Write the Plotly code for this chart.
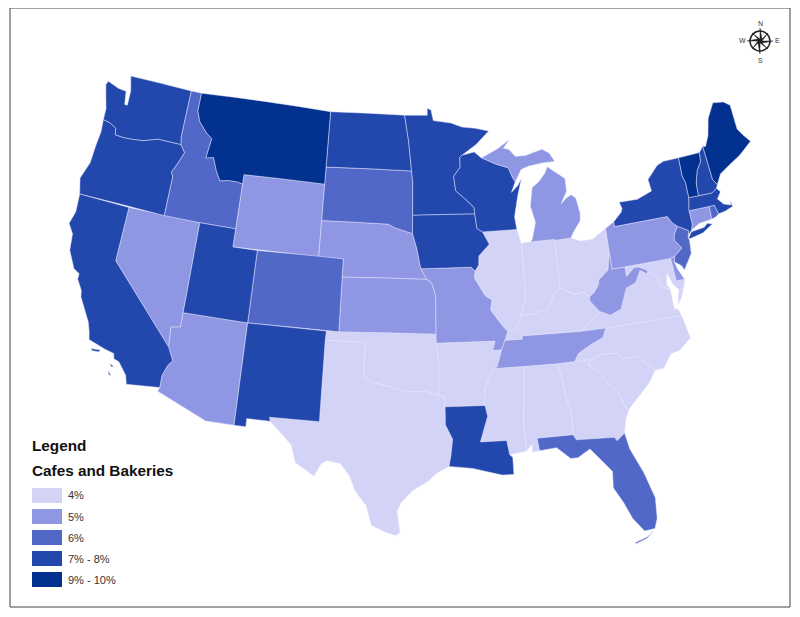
import plotly.graph_objects as go

# state outlines: (lon, lat) read by eye
WA = [(-122.75,49.0),(-117.03,49.0),(-117.04,46.42),(-116.92,45.99),(-118.98,46.0),(-119.3,45.93),(-120.2,45.73),(-121.2,45.65),(-122.0,45.62),(-122.7,45.65),(-122.8,46.0),(-123.4,46.2),(-124.05,46.27),(-124.1,46.9),(-124.4,47.5),(-124.73,48.17),(-124.6,48.38),(-123.5,48.15),(-122.8,48.12),(-122.6,47.4),(-122.35,47.4),(-122.4,48.2)]
OR = [(-124.05,46.27),(-123.4,46.2),(-122.8,46.0),(-122.7,45.65),(-122.0,45.62),(-121.2,45.65),(-120.2,45.73),(-119.3,45.93),(-118.98,46.0),(-116.92,45.99),(-116.46,45.6),(-116.85,44.95),(-117.22,44.4),(-117.03,44.2),(-117.03,42.0),(-124.2,42.0),(-124.55,42.85),(-124.1,43.8),(-124.05,44.8),(-123.95,45.6)]
CA = [(-124.2,42.0),(-120.0,42.0),(-120.0,39.0),(-114.63,35.0),(-114.15,34.3),(-114.45,34.0),(-114.72,33.4),(-114.72,32.72),(-117.12,32.53),(-117.3,33.0),(-118.0,33.65),(-118.4,33.75),(-118.5,34.03),(-119.2,34.15),(-120.5,34.45),(-120.65,34.9),(-120.9,35.4),(-121.9,36.6),(-122.0,36.95),(-122.5,37.5),(-122.5,37.8),(-123.0,38.0),(-123.7,38.9),(-123.85,39.8),(-124.35,40.3),(-124.1,41.0)]
CA_ISLE1 = [(-120.2,34.0),(-119.5,34.05),(-119.6,33.93),(-120.1,33.9)]
CA_ISLE2 = [(-118.6,33.45),(-118.3,33.35),(-118.45,33.28)]
CA_ISLE3 = [(-118.6,33.05),(-118.35,32.82),(-118.5,32.82)]
NV = [(-120.0,42.0),(-114.04,42.0),(-114.04,36.2),(-114.75,36.1),(-114.63,35.0),(-120.0,39.0)]
ID = [(-117.03,49.0),(-116.05,49.0),(-116.05,48.0),(-115.7,47.45),(-114.9,46.9),(-114.35,46.65),(-114.55,45.55),(-113.9,45.65),(-113.45,44.95),(-113.0,44.45),(-112.3,44.55),(-111.5,44.55),(-111.05,44.48),(-111.05,42.0),(-114.04,42.0),(-117.03,42.0),(-117.03,44.2),(-117.22,44.4),(-116.85,44.95),(-116.46,45.6),(-116.92,45.99),(-117.04,46.42)]
MT = [(-116.05,49.0),(-104.05,49.0),(-104.05,45.0),(-111.05,45.0),(-111.05,44.48),(-111.5,44.55),(-112.3,44.55),(-113.0,44.45),(-113.45,44.95),(-113.9,45.65),(-114.55,45.55),(-114.35,46.65),(-114.9,46.9),(-115.7,47.45),(-116.05,48.0)]
WY = [(-111.05,45.0),(-104.05,45.0),(-104.05,41.0),(-111.05,41.0)]
UT = [(-114.04,42.0),(-111.05,42.0),(-111.05,41.0),(-109.05,41.0),(-109.05,37.0),(-114.04,37.0)]
CO = [(-109.05,41.0),(-102.05,41.0),(-102.05,37.0),(-109.05,37.0)]
AZ = [(-114.04,37.0),(-109.05,37.0),(-109.05,31.33),(-111.07,31.33),(-114.81,32.5),(-114.72,32.72),(-114.72,33.4),(-114.45,34.0),(-114.15,34.3),(-114.63,35.0),(-114.75,36.1),(-114.04,36.2)]
NM = [(-109.05,37.0),(-103.0,37.0),(-103.04,36.5),(-103.04,32.0),(-106.62,32.0),(-106.53,31.78),(-108.21,31.78),(-108.21,31.33),(-109.05,31.33)]
ND = [(-104.05,49.0),(-97.23,49.0),(-96.85,47.6),(-96.56,45.93),(-104.05,45.94)]
SD = [(-104.05,45.94),(-96.56,45.93),(-96.45,45.3),(-96.45,43.5),(-96.45,42.5),(-97.9,42.8),(-98.5,43.0),(-104.05,43.0)]
NE = [(-104.05,43.0),(-98.5,43.0),(-97.9,42.8),(-96.45,42.5),(-96.1,41.7),(-95.9,41.0),(-95.77,40.58),(-95.3,40.0),(-102.05,40.0),(-102.05,41.0),(-104.05,41.0)]
KS = [(-102.05,40.0),(-95.3,40.0),(-94.9,39.8),(-94.6,39.1),(-94.62,37.0),(-102.05,37.0)]
OK = [(-103.0,37.0),(-94.62,37.0),(-94.62,36.5),(-94.43,35.4),(-94.48,33.64),(-95.5,33.88),(-96.6,33.85),(-97.2,33.9),(-98.1,34.13),(-99.2,34.3),(-100.0,34.56),(-100.0,36.5),(-103.04,36.5)]
TX = [(-103.04,36.5),(-100.0,36.5),(-100.0,34.56),(-99.2,34.3),(-98.1,34.13),(-97.2,33.9),(-96.6,33.85),(-95.5,33.88),(-94.48,33.64),(-94.04,33.55),(-94.04,33.0),(-94.04,32.0),(-93.55,31.2),(-93.7,30.3),(-93.85,29.7),(-94.7,29.35),(-95.3,28.9),(-96.4,28.35),(-97.15,27.7),(-97.4,27.2),(-97.2,26.0),(-97.5,25.85),(-98.2,26.05),(-99.1,26.4),(-99.5,27.5),(-100.3,28.3),(-100.7,29.1),(-101.4,29.77),(-102.3,29.88),(-102.7,29.7),(-103.15,28.98),(-104.5,29.65),(-104.9,30.6),(-106.53,31.78),(-106.62,32.0),(-103.04,32.0)]
MN = [(-97.23,49.0),(-95.15,49.0),(-95.15,49.38),(-94.8,49.3),(-94.6,48.7),(-93.0,48.55),(-92.0,48.3),(-90.8,48.2),(-89.6,48.0),(-90.8,47.3),(-92.1,46.75),(-92.3,46.65),(-92.3,46.1),(-92.9,45.6),(-92.75,44.8),(-91.9,44.3),(-91.25,43.85),(-91.22,43.5),(-96.45,43.5),(-96.45,45.3),(-96.56,45.93),(-96.85,47.6)]
IA = [(-96.45,43.5),(-91.22,43.5),(-91.1,42.7),(-90.65,42.5),(-90.15,41.8),(-91.05,41.2),(-91.1,40.7),(-91.42,40.38),(-91.7,40.6),(-95.77,40.58),(-95.9,41.0),(-96.1,41.7),(-96.45,42.5)]
MO = [(-95.77,40.58),(-91.7,40.6),(-91.42,40.38),(-91.5,40.0),(-90.7,39.0),(-90.2,38.75),(-90.35,38.2),(-89.5,37.3),(-89.13,36.98),(-89.4,36.5),(-89.7,36.0),(-90.37,36.0),(-90.15,36.5),(-94.62,36.5),(-94.62,37.0),(-94.6,39.1),(-94.9,39.8),(-95.3,40.0)]
AR = [(-94.62,36.5),(-90.15,36.5),(-90.37,36.0),(-89.7,36.0),(-90.1,35.1),(-90.6,34.7),(-91.1,33.9),(-91.15,33.0),(-94.04,33.0),(-94.04,33.55),(-94.48,33.64),(-94.43,35.4)]
LA = [(-94.04,33.0),(-91.15,33.0),(-91.0,32.4),(-91.6,31.0),(-89.75,31.0),(-89.6,30.2),(-89.4,30.05),(-89.4,29.8),(-89.4,29.1),(-90.2,29.1),(-91.3,29.35),(-92.2,29.55),(-93.85,29.7),(-93.7,30.3),(-93.55,31.2),(-94.04,32.0)]
MS = [(-91.15,33.0),(-91.1,33.9),(-90.6,34.7),(-90.3,35.0),(-88.2,35.0),(-88.1,34.9),(-88.47,31.9),(-88.4,30.35),(-89.6,30.2),(-89.75,31.0),(-91.6,31.0),(-91.0,32.4)]
AL = [(-88.2,35.0),(-85.6,34.98),(-85.18,32.85),(-85.0,32.3),(-85.05,31.0),(-87.6,31.0),(-87.5,30.3),(-88.0,30.25),(-88.0,30.7),(-88.4,30.35),(-88.47,31.9),(-88.1,34.9)]
GA = [(-85.6,34.98),(-83.1,35.0),(-83.35,34.7),(-82.9,34.45),(-82.0,33.5),(-81.45,33.0),(-81.1,32.1),(-80.85,32.03),(-81.2,31.5),(-81.45,30.72),(-82.05,30.36),(-82.2,30.57),(-84.87,30.7),(-85.05,31.0),(-85.0,32.3),(-85.18,32.85)]
FL = [(-87.6,31.0),(-85.05,31.0),(-84.87,30.7),(-82.2,30.57),(-82.05,30.36),(-81.45,30.72),(-81.25,29.8),(-80.55,28.4),(-80.05,26.9),(-80.15,25.75),(-80.4,25.2),(-81.1,25.15),(-81.75,25.95),(-82.2,26.9),(-82.75,27.8),(-82.65,28.7),(-83.4,29.5),(-84.0,30.1),(-84.9,29.7),(-85.4,29.7),(-86.3,30.38),(-87.5,30.3)]
FL_KEYS = [(-80.5,25.1),(-81.0,24.72),(-81.8,24.5),(-81.8,24.58),(-81.0,24.8)]
SC = [(-83.35,34.7),(-83.1,35.0),(-82.3,35.2),(-81.05,35.15),(-80.8,34.82),(-79.67,34.8),(-78.55,33.87),(-79.2,33.2),(-79.9,32.7),(-80.85,32.03),(-81.1,32.1),(-81.45,33.0),(-82.0,33.5),(-82.9,34.45)]
NC = [(-84.32,34.99),(-83.1,35.0),(-82.3,35.2),(-81.05,35.15),(-80.8,34.82),(-79.67,34.8),(-78.55,33.87),(-77.9,33.9),(-77.2,34.6),(-76.5,34.7),(-75.55,35.25),(-75.85,36.55),(-81.68,36.59),(-82.0,36.1),(-83.0,35.8),(-84.0,35.4)]
TN = [(-90.3,35.0),(-88.2,35.0),(-85.6,34.98),(-84.32,34.99),(-84.0,35.4),(-83.0,35.8),(-82.0,36.1),(-81.68,36.59),(-83.68,36.6),(-88.07,36.68),(-88.07,36.5),(-89.4,36.5),(-89.7,36.0),(-90.1,35.1)]
KY = [(-89.4,36.5),(-88.07,36.5),(-88.07,36.68),(-83.68,36.6),(-83.1,36.85),(-81.97,37.54),(-82.6,38.17),(-82.6,38.4),(-83.0,38.7),(-83.7,38.65),(-84.8,39.1),(-85.4,38.7),(-85.9,38.0),(-86.5,37.95),(-87.1,37.8),(-88.05,37.8),(-88.45,37.1),(-89.13,36.98)]
IL = [(-91.42,40.38),(-91.1,40.7),(-91.05,41.2),(-90.15,41.8),(-90.65,42.5),(-87.8,42.5),(-87.53,41.7),(-87.53,39.35),(-87.6,38.7),(-88.05,37.8),(-88.45,37.1),(-89.13,36.98),(-89.5,37.3),(-90.35,38.2),(-90.2,38.75),(-90.7,39.0),(-91.5,40.0)]
IN = [(-87.53,41.7),(-87.2,41.76),(-86.8,41.76),(-84.8,41.76),(-84.8,39.1),(-85.4,38.7),(-85.9,38.0),(-86.5,37.95),(-87.1,37.8),(-88.05,37.8),(-87.6,38.7),(-87.53,39.35)]
OH = [(-84.8,41.7),(-83.45,41.73),(-82.7,41.5),(-81.7,41.5),(-80.52,41.98),(-80.52,40.64),(-80.85,39.7),(-81.7,39.25),(-81.75,39.0),(-82.2,38.6),(-82.6,38.4),(-83.0,38.7),(-83.7,38.65),(-84.8,39.1)]
WI = [(-90.4,46.55),(-89.1,46.14),(-88.1,45.9),(-87.8,45.35),(-87.6,45.1),(-88.0,44.55),(-87.4,44.9),(-87.05,45.25),(-87.5,44.3),(-87.9,43.2),(-87.8,42.5),(-90.65,42.5),(-91.1,42.7),(-91.22,43.5),(-91.25,43.85),(-91.9,44.3),(-92.75,44.8),(-92.9,45.6),(-92.3,46.1),(-92.3,46.65),(-92.1,46.75),(-91.0,46.9)]
MI_LOWER = [(-86.8,41.76),(-84.8,41.76),(-84.8,41.7),(-83.45,41.73),(-83.15,42.05),(-82.5,42.6),(-82.42,43.0),(-82.6,43.85),(-82.95,44.07),(-83.35,43.95),(-83.9,43.65),(-83.3,44.3),(-83.3,45.0),(-84.7,45.75),(-85.0,45.4),(-85.55,45.0),(-86.2,44.7),(-86.5,43.7),(-86.2,42.8),(-86.6,41.9)]
MI_UPPER = [(-90.4,46.55),(-89.1,46.14),(-88.1,45.9),(-87.8,45.35),(-87.6,45.1),(-87.0,45.75),(-86.3,45.9),(-85.0,46.0),(-84.0,46.0),(-84.4,46.5),(-85.0,46.75),(-86.5,46.5),(-87.4,46.5),(-87.9,46.9),(-88.4,47.0),(-87.8,47.45),(-88.9,47.0)]
PA = [(-80.52,41.98),(-79.76,42.27),(-79.76,42.0),(-75.35,42.0),(-75.05,41.6),(-74.7,41.36),(-75.1,40.95),(-75.2,40.65),(-74.72,40.15),(-75.42,39.8),(-75.79,39.72),(-80.52,39.72),(-80.52,40.64)]
NY = [(-79.76,42.27),(-79.05,42.7),(-78.9,42.9),(-79.05,43.27),(-77.5,43.25),(-76.2,43.55),(-76.3,44.2),(-75.3,44.85),(-74.7,45.0),(-73.35,45.0),(-73.4,44.0),(-73.25,43.6),(-73.27,42.75),(-73.5,42.05),(-73.5,41.3),(-73.65,41.0),(-74.0,40.75),(-73.9,41.0),(-74.7,41.36),(-75.05,41.6),(-75.35,42.0),(-79.76,42.0)]
NY_LONG_ISLAND = [(-74.03,40.6),(-73.7,40.9),(-72.6,40.98),(-72.3,41.15),(-71.9,41.05),(-72.8,40.7),(-73.9,40.55)]
NJ = [(-74.7,41.36),(-73.9,41.0),(-74.05,40.65),(-74.0,40.45),(-74.1,39.75),(-74.9,38.95),(-75.05,39.2),(-75.55,39.5),(-75.42,39.8),(-74.72,40.15),(-75.2,40.65),(-75.1,40.95)]
DE = [(-75.79,39.72),(-75.42,39.8),(-75.55,39.5),(-75.4,39.05),(-75.05,38.45),(-75.7,38.46)]
MD = [(-79.48,39.72),(-75.79,39.72),(-75.7,38.46),(-75.05,38.45),(-75.25,38.03),(-75.65,37.95),(-76.0,38.3),(-76.3,39.0),(-76.5,38.4),(-76.3,38.05),(-77.05,38.4),(-77.05,38.85),(-77.5,39.15),(-77.75,39.32),(-78.4,39.6),(-78.8,39.6),(-79.48,39.2)]
VA = [(-83.68,36.6),(-81.68,36.59),(-75.85,36.55),(-76.0,36.9),(-76.3,37.0),(-76.3,38.05),(-77.05,38.4),(-77.05,38.85),(-77.5,39.15),(-77.75,39.32),(-77.83,39.13),(-78.35,39.4),(-78.87,38.77),(-79.65,38.58),(-80.3,37.5),(-81.2,37.25),(-81.97,37.54),(-83.1,36.85)]
VA_SHORE = [(-75.95,37.15),(-75.65,37.95),(-75.25,38.03),(-75.6,37.5)]
WV = [(-80.52,40.64),(-80.52,39.72),(-79.48,39.72),(-79.48,39.2),(-78.8,39.6),(-78.4,39.6),(-77.75,39.32),(-77.83,39.13),(-78.35,39.4),(-78.87,38.77),(-79.65,38.58),(-80.3,37.5),(-81.2,37.25),(-81.97,37.54),(-82.6,38.17),(-82.6,38.4),(-82.2,38.6),(-81.75,39.0),(-81.7,39.25),(-80.85,39.7)]
CT = [(-73.5,42.05),(-71.8,42.02),(-71.85,41.32),(-72.9,41.25),(-73.65,41.0),(-73.5,41.3)]
RI = [(-71.8,42.02),(-71.38,42.02),(-71.2,41.5),(-71.5,41.37),(-71.85,41.32)]
MA = [(-73.5,42.05),(-73.27,42.75),(-71.3,42.7),(-70.85,42.88),(-70.6,42.65),(-71.0,42.3),(-70.6,41.95),(-70.05,41.8),(-70.0,42.05),(-69.95,41.7),(-70.65,41.55),(-71.2,41.5),(-71.38,42.02),(-71.8,42.02)]
VT = [(-73.35,45.0),(-71.5,45.01),(-71.6,44.5),(-72.05,44.1),(-72.4,43.4),(-72.46,42.73),(-73.27,42.75),(-73.25,43.6),(-73.4,44.0)]
NH = [(-71.5,45.01),(-71.08,45.3),(-70.98,43.4),(-70.7,43.07),(-70.85,42.88),(-71.3,42.7),(-72.46,42.73),(-72.4,43.4),(-72.05,44.1),(-71.6,44.5)]
ME = [(-71.08,45.3),(-70.85,45.25),(-70.4,45.8),(-70.0,46.7),(-69.23,47.46),(-68.3,47.35),(-67.8,47.07),(-67.8,45.7),(-67.45,45.3),(-67.0,44.85),(-68.2,44.3),(-69.1,44.0),(-70.2,43.6),(-70.7,43.07),(-70.98,43.4)]

group_4 = [TX,OK,AR,MS,AL,GA,SC,NC,VA,VA_SHORE,KY,OH,IN,IL,MD]
group_5 = [NV,AZ,WY,NE,KS,MO,MI_LOWER,MI_UPPER,TN,PA,CT,WV,DE]
group_6 = [ID,CO,SD,FL,FL_KEYS,NJ,RI]
group_7 = [WA,OR,CA,CA_ISLE1,CA_ISLE2,CA_ISLE3,UT,NM,ND,MN,IA,WI,NY,NY_LONG_ISLAND,MA,NH,LA]
group_9 = [MT,ME,VT]
groups = [group_4, group_5, group_6, group_7, group_9]
labels = ["4%","5%","6%","7% - 8%","9% - 10%"]
colors = ["#d3d3f8","#8f96e3","#5268c9","#2247ad","#03318f"]

W, H = 784, 601
def px(x): return (x-8)/W
def py(y): return 1-(y-8)/H

def clockwise(poly):
    """d3-geo takes the small side of a ring only when it runs clockwise."""
    area = sum(a[0]*b[1]-b[0]*a[1] for a, b in zip(poly, poly[1:]+poly[:1]))
    return poly if area < 0 else poly[::-1]

fig = go.Figure()
for lab, c, g in zip(labels, colors, groups):
    for poly in g:
        ring = clockwise(poly)
        ring = ring + [ring[0]]
        fig.add_trace(go.Scattergeo(lon=[p[0] for p in ring], lat=[p[1] for p in ring], mode="lines", fill="toself",
                                    fillcolor=c, name=lab, line=dict(color="#e4e4fa", width=0.5),
                                    hoverinfo="name", showlegend=False))

fig.update_geos(projection=dict(type="conic equal area", parallels=[19,57], rotation=dict(lon=-96), scale=1.538),
    center=dict(lon=-97.4, lat=38.32),
    lonaxis=dict(range=[-130,-60]), lataxis=dict(range=[15,60]),
    showland=False, showocean=False, showlakes=False, showrivers=False, showcountries=False,
    showcoastlines=False, showsubunits=False, showframe=False, bgcolor="rgba(0,0,0,0)",
    domain=dict(x=[px(20),px(780)], y=[py(600),py(20)]))

shapes = [dict(type="rect", xref="paper", yref="paper", x0=px(10), x1=px(790), y0=py(607), y1=py(8),
               line=dict(color="#444444", width=1))]
annos = []
def text(x, y, s, size, color, anchor="left"):
    annos.append(dict(x=px(x), y=py(y), text=s, showarrow=False, xanchor=anchor, yanchor="middle",
                      xref="paper", yref="paper", font=dict(family="Liberation Sans", size=size, color=color)))
text(30, 445, "<b>Legend</b>", 15.3, "#111111")
text(30, 470, "<b>Cafes and Bakeries</b>", 15.3, "#111111")
for i, (lab, c) in enumerate(zip(labels, colors)):
    yc = 495.5 + 21*i
    shapes.append(dict(type="rect", xref="paper", yref="paper", x0=px(32), x1=px(62), y0=py(yc+7.5), y1=py(yc-7.5),
                       fillcolor=c, line=dict(width=0)))
    text(66, yc, lab, 11, "#333333")

cx, cy, r = 760, 41, 10
shapes.append(dict(type="circle", xref="paper", yref="paper", x0=px(cx-r), x1=px(cx+r), y0=py(cy+r), y1=py(cy-r),
                   line=dict(color="#222222", width=1.5)))
d = 13; s = 2; e = 8
star = [(0,-d),(s,-s),(e,-e),(s,0),(d,0),(s,s),(e,e),(0,s),(0,d),(-s,s),(-e,e),(-s,0),(-d,0),(-s,-s),(-e,-e),(0,-s)]
path = "M" + " L".join(f"{px(cx+a):.5f},{py(cy+b):.5f}" for a, b in star) + " Z"
shapes.append(dict(type="path", xref="paper", yref="paper", path=path, fillcolor="#222222", line=dict(color="#222222", width=0.5)))
text(cx, 24, "N", 7, "#333333", "center")
text(cx, 60, "S", 7, "#333333", "center")
text(cx+17, 41, "E", 7, "#333333", "center")
text(cx-18, 41, "W", 7, "#333333", "center")

fig.update_layout(width=W, height=H, margin=dict(l=0,r=0,t=0,b=0), paper_bgcolor="white",
                  shapes=shapes, annotations=annos)
fig.write_html("out.html")
